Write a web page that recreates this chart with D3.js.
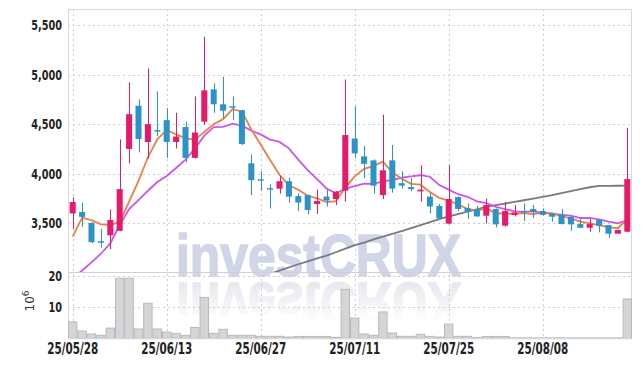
<!DOCTYPE html>
<html><head><meta charset="utf-8">
<script src="https://cdn.jsdelivr.net/npm/d3@7"></script>
<style>
html,body{margin:0;padding:0;background:#fff;}
svg{display:block;}
.tick-lbl{font-family:"DejaVu Sans Condensed","DejaVu Sans",sans-serif;font-weight:700;fill:#222;}
</style></head>
<body>
<svg id="chart" width="642" height="366"></svg>
<script>
const dates = ["25/05/28","25/05/29","25/05/30","25/06/02","25/06/04","25/06/05","25/06/09","25/06/10","25/06/11","25/06/12",
"25/06/13","25/06/16","25/06/17","25/06/18","25/06/19","25/06/20","25/06/23","25/06/24","25/06/25","25/06/26",
"25/06/27","25/06/30","25/07/01","25/07/02","25/07/03","25/07/04","25/07/07","25/07/08","25/07/09","25/07/10",
"25/07/11","25/07/14","25/07/15","25/07/16","25/07/17","25/07/18","25/07/21","25/07/22","25/07/23","25/07/24",
"25/07/25","25/07/28","25/07/29","25/07/30","25/07/31","25/08/01","25/08/04","25/08/05","25/08/06","25/08/07",
"25/08/08","25/08/11","25/08/12","25/08/13","25/08/14","25/08/18","25/08/19","25/08/20","25/08/21","25/08/22"];
const openP = [3600,3615,3505,3320,3380,3425,4250,4685,4320,4440,4540,4320,4470,4160,4525,4850,4700,4680,4640,4105,
3945,3855,3850,3925,3775,3785,3695,3770,3745,3830,4355,4175,4135,3785,4135,3905,3865,3822,3770,3675,
3497,3765,3655,3640,3577,3645,3477,3584,3625,3645,3625,3600,3590,3567,3493,3456,3534,3483,3396,3416];
const highP = [3760,3710,3510,3445,3640,4345,4920,4750,5060,4830,4660,4615,4525,4780,5380,4910,4975,4780,4645,4195,
4025,3895,3980,3960,3800,3790,3840,3850,3825,4950,4680,4280,4145,4595,4290,4025,3955,4085,3810,3695,
4087,3770,3700,3675,3750,3650,3718,3685,3700,3685,3650,3605,3645,3570,3550,3545,3540,3485,3435,4463];
const lowP = [3445,3465,3300,3255,3240,3420,4105,4215,4150,4380,4160,4255,4115,4155,4495,4615,4555,4540,4290,3785,
3830,3650,3800,3710,3625,3590,3595,3670,3685,3720,4160,3955,3800,3745,3810,3850,3825,3720,3600,3535,
3490,3625,3545,3565,3500,3460,3467,3570,3525,3555,3578,3517,3490,3425,3450,3415,3410,3355,3395,3410];
const closeP = [3715,3565,3310,3305,3535,3845,4600,4350,4500,4435,4320,4375,4160,4415,4840,4700,4635,4665,4300,3935,
3940,3850,3925,3770,3710,3635,3725,3730,3820,4390,4205,4100,3880,4035,3850,3880,3845,3840,3670,3550,
3745,3645,3620,3570,3684,3490,3624,3611,3610,3617,3585,3567,3493,3490,3456,3493,3477,3396,3433,3946];
const ma5 = [3366,3557,3533,3490,3486,3512,3719,3927,4166,4346,4441,4396,4358,4341,4422,4498,4550,4651,4628,4447,
4295,4138,3990,3884,3839,3778,3753,3714,3724,3860,3974,4049,4079,4122,4014,3949,3898,3890,3817,3757,
3730,3690,3646,3626,3653,3602,3598,3596,3604,3590,3611,3600,3574,3550,3518,3500,3482,3462,3451,3549];
const ma10 = [2940,3025,3107,3194,3298,3483,3644,3735,3829,3916,3977,4058,4143,4254,4384,4470,4473,4505,4485,4435,
4397,4344,4321,4256,4143,4037,3946,3852,3804,3850,3876,3901,3897,3923,3937,3962,3974,3985,3970,3886,
3840,3794,3768,3722,3705,3666,3644,3621,3615,3622,3606,3598,3585,3577,3554,3555,3540,3518,3501,3534];
const ma60 = [null,null,null,null,null,null,null,null,null,null,null,null,null,null,null,null,null,null,null,null,
null,2993,3024,3056,3088,3118,3147,3175,3209,3246,3280,3307,3338,3367,3395,3423,3452,3482,3513,3543,
3570,3594,3618,3642,3668,3684,3700,3716,3733,3750,3767,3784,3804,3824,3844,3864,3877,3878,3879,3880];
const volume = [5.3,2.35,1.4,0.97,3.3,19.4,19.4,3.0,11.3,3.0,2.0,1.6,0.97,3.5,13.2,1.6,2.9,0.97,0.97,0.97,
0.64,0.64,0.64,0.4,0.6,0.6,0.6,0.6,0.3,15.8,6.5,1.4,0.97,8.5,1.7,0.64,0.64,1.3,0.64,0.4,
4.6,0.64,0.64,0.25,0.6,0.6,0.6,0.15,0.15,0.15,0.15,0.15,0.15,0.15,0.15,0.15,0.15,0.15,0.15,12.7];
const priceTicks = [3500,4000,4500,5000,5500];
const volTicks = [10,20];
const dateTickIdx = [0,10,20,30,40,50];

const upColor = "#e6196a", downColor = "#2b93c8";
const L = 68, R = 632, PT = 9, PB = 272, VB = 338.3;
const svg = d3.select("#chart");

const x = d3.scaleBand().domain(dates).range([L, R]).paddingInner(0.36).paddingOuter(0.18);
const xv = d3.scaleBand().domain(dates).range([L, R]).padding(0);
const cx = d => x(d) + x.bandwidth()/2;
const y = d3.scaleLinear().domain([3010, 5660]).range([PB, PT]);
const yv = d3.scaleLinear().domain([0, 21.4]).range([VB, PB]);

const defs = svg.append("defs");
defs.append("clipPath").attr("id","cp").append("rect").attr("x",L).attr("y",PT).attr("width",R-L).attr("height",PB-PT);
defs.append("clipPath").attr("id","cv").append("rect").attr("x",L).attr("y",PB).attr("width",R-L).attr("height",VB-PB);
const grad = defs.append("linearGradient").attr("id","fade").attr("x1",0).attr("y1",0).attr("x2",0).attr("y2",1);
grad.append("stop").attr("offset","0%").attr("stop-color","#fff").attr("stop-opacity",0.9);
grad.append("stop").attr("offset","100%").attr("stop-color","#fff").attr("stop-opacity",0);
const mask = defs.append("mask").attr("id","fm");
mask.append("rect").attr("x",L).attr("y",279).attr("width",R-L).attr("height",44).attr("fill","url(#fade)");

// watermark
svg.append("text").attr("x",176).attr("y",276).attr("font-family","Liberation Sans, Arial, sans-serif")
  .attr("font-weight",700).attr("font-size",60).attr("fill","#d0d6e8").attr("stroke","#d0d6e8").attr("stroke-width",1.6)
  .attr("textLength",285).attr("lengthAdjust","spacingAndGlyphs").text("investCRUX");
svg.append("g").attr("mask","url(#fm)").append("text").attr("x",176).attr("y",276)
  .attr("transform","translate(0,559) scale(1,-1)")
  .attr("font-family","Liberation Sans, Arial, sans-serif")
  .attr("font-weight",700).attr("font-size",60).attr("fill","#e2e2ea").attr("stroke","#e2e2ea").attr("stroke-width",1.6)
  .attr("textLength",285).attr("lengthAdjust","spacingAndGlyphs").text("investCRUX");

// grids
const grid = svg.append("g").attr("stroke","#c9cde0").attr("stroke-width",1).attr("stroke-dasharray","2,3");
priceTicks.forEach(t => grid.append("line").attr("x1",L).attr("x2",R).attr("y1",Math.round(y(t))+0.5).attr("y2",Math.round(y(t))+0.5));
volTicks.forEach(t => grid.append("line").attr("x1",L).attr("x2",R).attr("y1",Math.round(yv(t))+0.5).attr("y2",Math.round(yv(t))+0.5));
dateTickIdx.forEach(i => {
  const xx = Math.round(cx(dates[i]))+0.5;
  grid.append("line").attr("x1",xx).attr("x2",xx).attr("y1",PT).attr("y2",VB);
});

// frames
svg.append("rect").attr("x",L+0.5).attr("y",PT+0.5).attr("width",R-L-1).attr("height",VB-PT).attr("fill","none").attr("stroke","#d6d6dc");
svg.append("line").attr("x1",L).attr("x2",R).attr("y1",PB+0.5).attr("y2",PB+0.5).attr("stroke","#cfcfd4");

// volume bars
svg.append("g").attr("clip-path","url(#cv)").selectAll("rect").data(dates).join("rect")
  .attr("x",d=>xv(d)+0.5).attr("width",xv.bandwidth()-1)
  .attr("y",(d,i)=>yv(volume[i])).attr("height",(d,i)=>VB-yv(volume[i]))
  .attr("fill","#d5d5d7").attr("stroke","#b9b9bd").attr("stroke-width",1);

// MA lines
const pg = svg.append("g").attr("clip-path","url(#cp)");
const line = arr => d3.line().defined((d,i)=>arr[i]!=null).x(d=>cx(d)).y((d,i)=>y(arr[i]));
pg.append("path").attr("d",line(ma60)(dates)).attr("fill","none").attr("stroke","#7a7a7e").attr("stroke-width",1.8);
pg.append("path").attr("d",line(ma10)(dates)).attr("fill","none").attr("stroke","#cc55ee").attr("stroke-width",1.8);
pg.append("path").attr("d",line(ma5)(dates)).attr("fill","none").attr("stroke","#ef7e45").attr("stroke-width",1.8);

// candles
const cg = pg.append("g").selectAll("g").data(dates).join("g");
cg.append("line").attr("x1",d=>Math.round(cx(d))+0.5).attr("x2",d=>Math.round(cx(d))+0.5)
  .attr("y1",(d,i)=>y(highP[i])).attr("y2",(d,i)=>y(lowP[i]))
  .attr("stroke",(d,i)=>closeP[i]>=openP[i]?upColor:downColor).attr("stroke-width",1);
cg.append("rect").attr("x",d=>x(d)).attr("width",x.bandwidth())
  .attr("y",(d,i)=>y(Math.max(openP[i],closeP[i])))
  .attr("height",(d,i)=>Math.max(1.5, Math.abs(y(openP[i])-y(closeP[i]))))
  .attr("fill",(d,i)=>closeP[i]>=openP[i]?upColor:downColor);

// axis labels
const fmt = d3.format(",");
const ax = svg.append("g");
const squeeze = sel => sel.each(function(){
  const w = this.getComputedTextLength();
  d3.select(this).attr("textLength", w*0.77).attr("lengthAdjust","spacingAndGlyphs");
});
priceTicks.forEach(t => ax.append("text").attr("class","tick-lbl").attr("x",62).attr("y",y(t)).attr("dy","0.36em")
  .attr("text-anchor","end").attr("font-size",14).text(fmt(t)).call(squeeze));
volTicks.forEach(t => ax.append("text").attr("class","tick-lbl").attr("x",62).attr("y",yv(t)).attr("dy","0.36em")
  .attr("text-anchor","end").attr("font-size",14).text(t).call(squeeze));
dateTickIdx.forEach(i => ax.append("text").attr("class","tick-lbl").attr("x",cx(dates[i])).attr("y",354)
  .attr("text-anchor","middle").attr("font-size",15).text(dates[i]).call(squeeze));
ax.append("text").attr("transform","translate(34,301) rotate(-90)").attr("text-anchor","middle")
  .attr("font-family","DejaVu Sans, sans-serif").attr("font-size",12).attr("fill","#333")
  .html('10<tspan dy="-5" font-size="9">6</tspan>');
</script>
</body></html>
